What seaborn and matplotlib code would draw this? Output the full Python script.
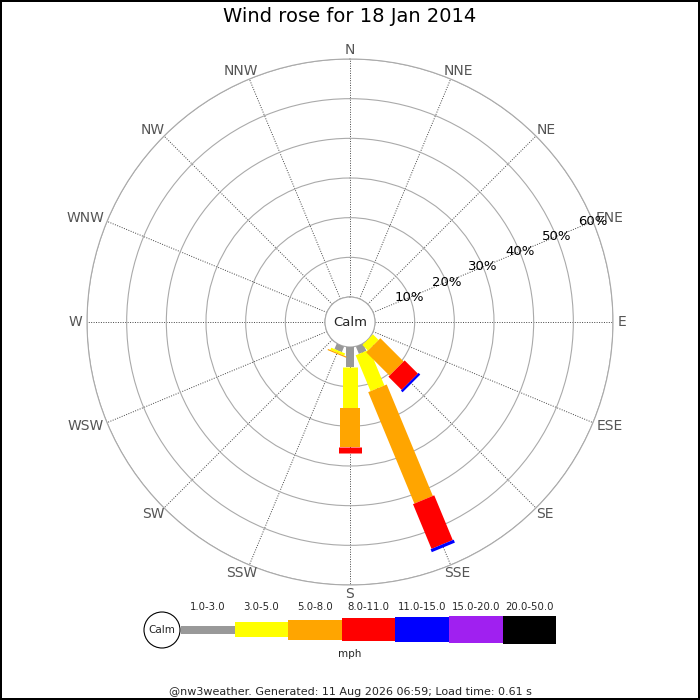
import numpy as np
import matplotlib
matplotlib.use("Agg")
import matplotlib.pyplot as plt
import seaborn as sns

# ── data ────────────────────────────────────────────────────────
DIRECTIONS = ["N", "NNE", "NE", "ENE", "E", "ESE", "SE", "SSE",
              "S", "SSW", "SW", "WSW", "W", "WNW", "NW", "NNW"]
SPEED_BINS = ["1.0-3.0", "3.0-5.0", "5.0-8.0", "8.0-11.0",
              "11.0-15.0", "15.0-20.0", "20.0-50.0"]
BIN_COLOURS = ["#999999", "#ffff00", "#ffa500", "#ff0000",
               "#0000ff", "#a020f0", "#000000"]

# % of time per direction, one list per speed bin (index follows DIRECTIONS)
pct_1_3   = [0, 0, 0, 0, 0, 0, 0.0, 2.0, 5.0, 1.5, 0, 0, 0, 0, 0, 0]
pct_3_5   = [0, 0, 0, 0, 0, 0, 2.0, 9.8, 10.5, 0.6, 0, 0, 0, 0, 0, 0]
pct_5_8   = [0, 0, 0, 0, 0, 0, 8.3, 30.4, 9.6, 0.3, 0, 0, 0, 0, 0, 0]
pct_8_11  = [0, 0, 0, 0, 0, 0, 4.7, 12.2, 1.5, 0, 0, 0, 0, 0, 0, 0]
pct_11_15 = [0, 0, 0, 0, 0, 0, 0.6, 0.8, 0, 0, 0, 0, 0, 0, 0, 0]
pct_15_20 = [0] * 16
pct_20_50 = [0] * 16

RINGS       = [10, 20, 30, 40, 50, 60]
RING_LABELS = ["10%", "20%", "30%", "40%", "50%", "60%"]

TITLE  = "Wind rose for 18 Jan 2014"
FOOTER = "@nw3weather. Generated: 11 Aug 2026 06:59; Load time: 0.61 s"

# ── style ───────────────────────────────────────────────────────
sns.set_style("white")
plt.rcParams["font.family"] = ["DejaVu Sans"]

BAR_PX = [8, 15, 20, 23, 25, 27, 28]     # bar thickness per speed bin
PX2PT  = 72 / 100

fig = plt.figure(figsize=(7, 7), dpi=100, facecolor="white",
                 edgecolor="black", linewidth=1.5)
renderer = fig.canvas.get_renderer()

# ── rose ────────────────────────────────────────────────────────
ax = fig.add_axes([87/700, 115/700, 526/700, 526/700], projection="polar")
ax.set_theta_zero_location("N")
ax.set_theta_direction(-1)
ax.set_ylim(0, 60)
ax.set_rorigin(-6.3)

angles = np.arange(16) * 22.5
theta = np.deg2rad(angles)
ax.set_thetagrids(angles, [""] * 16)
ax.set_rgrids([0] + RINGS, [""] * (len(RINGS) + 1))
ax.xaxis.grid(True, color="#444444", linestyle=(0, (1, 1.5)), linewidth=0.7)
ax.yaxis.grid(True, color="#aaaaaa", linestyle="-", linewidth=0.8)
for side in ["polar", "inner"]:
    ax.spines[side].set_color("#aaaaaa")
    ax.spines[side].set_linewidth(0.8)

# compass labels: pushed outward by half their own size
for th, name in zip(theta, DIRECTIONS):
    t = ax.annotate(name, xy=(th, 60), xytext=(0, 0),
                    textcoords="offset points", ha="center", va="center",
                    fontsize=10, color="#555555", annotation_clip=False)
    bb = t.get_window_extent(renderer)
    dx = (bb.width / 2 + 4.5) * np.sin(th) * PX2PT
    dy = (bb.height / 2 + 2.0) * np.cos(th) * PX2PT
    t.set_position((dx, dy))

for r, lab in zip(RINGS, RING_LABELS):
    ax.text(np.deg2rad(67.5), r, lab, ha="center", va="center",
            fontsize=9.5, color="black")

ax.text(0, -6.3, "Calm", ha="center", va="center", fontsize=9.5)

bins = [pct_1_3, pct_3_5, pct_5_8, pct_8_11, pct_11_15, pct_15_20, pct_20_50]
base = np.zeros(16)
for vals, col, px in zip(bins, BIN_COLOURS, BAR_PX):
    vals = np.array(vals, dtype=float)
    keep = vals > 0
    ax.vlines(theta[keep], base[keep], base[keep] + vals[keep],
              colors=col, linewidth=px * PX2PT, capstyle="butt", zorder=3)
    base += vals

# ── legend strip + footer (pixel coordinates) ───────────────────
lax = fig.add_axes([0, 0, 1, 1], facecolor="none")
lax.set_xlim(0, 700)
lax.set_ylim(700, 0)
lax.axis("off")

seg_w, x0, yc = 53.6, 181, 629.5
for i, (lab, col, px) in enumerate(zip(SPEED_BINS, BIN_COLOURS, BAR_PX)):
    left = x0 + i * seg_w
    lax.barh(yc, seg_w, left=left, height=px, color=col, linewidth=0)
    lax.text(left + seg_w / 2, 607, lab, ha="center", va="center",
             fontsize=7.3)

lax.add_patch(plt.Circle((162, 630), 18, facecolor="white",
                         edgecolor="black", linewidth=0.8, zorder=4))
lax.text(162, 630, "Calm", ha="center", va="center", fontsize=7.5, zorder=5)
lax.text(350, 654, "mph", ha="center", va="center", fontsize=7.5)
lax.text(350, 692, FOOTER, ha="center", va="center", fontsize=8)

fig.suptitle(TITLE, y=1 - 17/700, va="center", fontsize=14, color="black")

fig.savefig("out.png", dpi=100, facecolor="white",
            edgecolor=fig.get_edgecolor())
